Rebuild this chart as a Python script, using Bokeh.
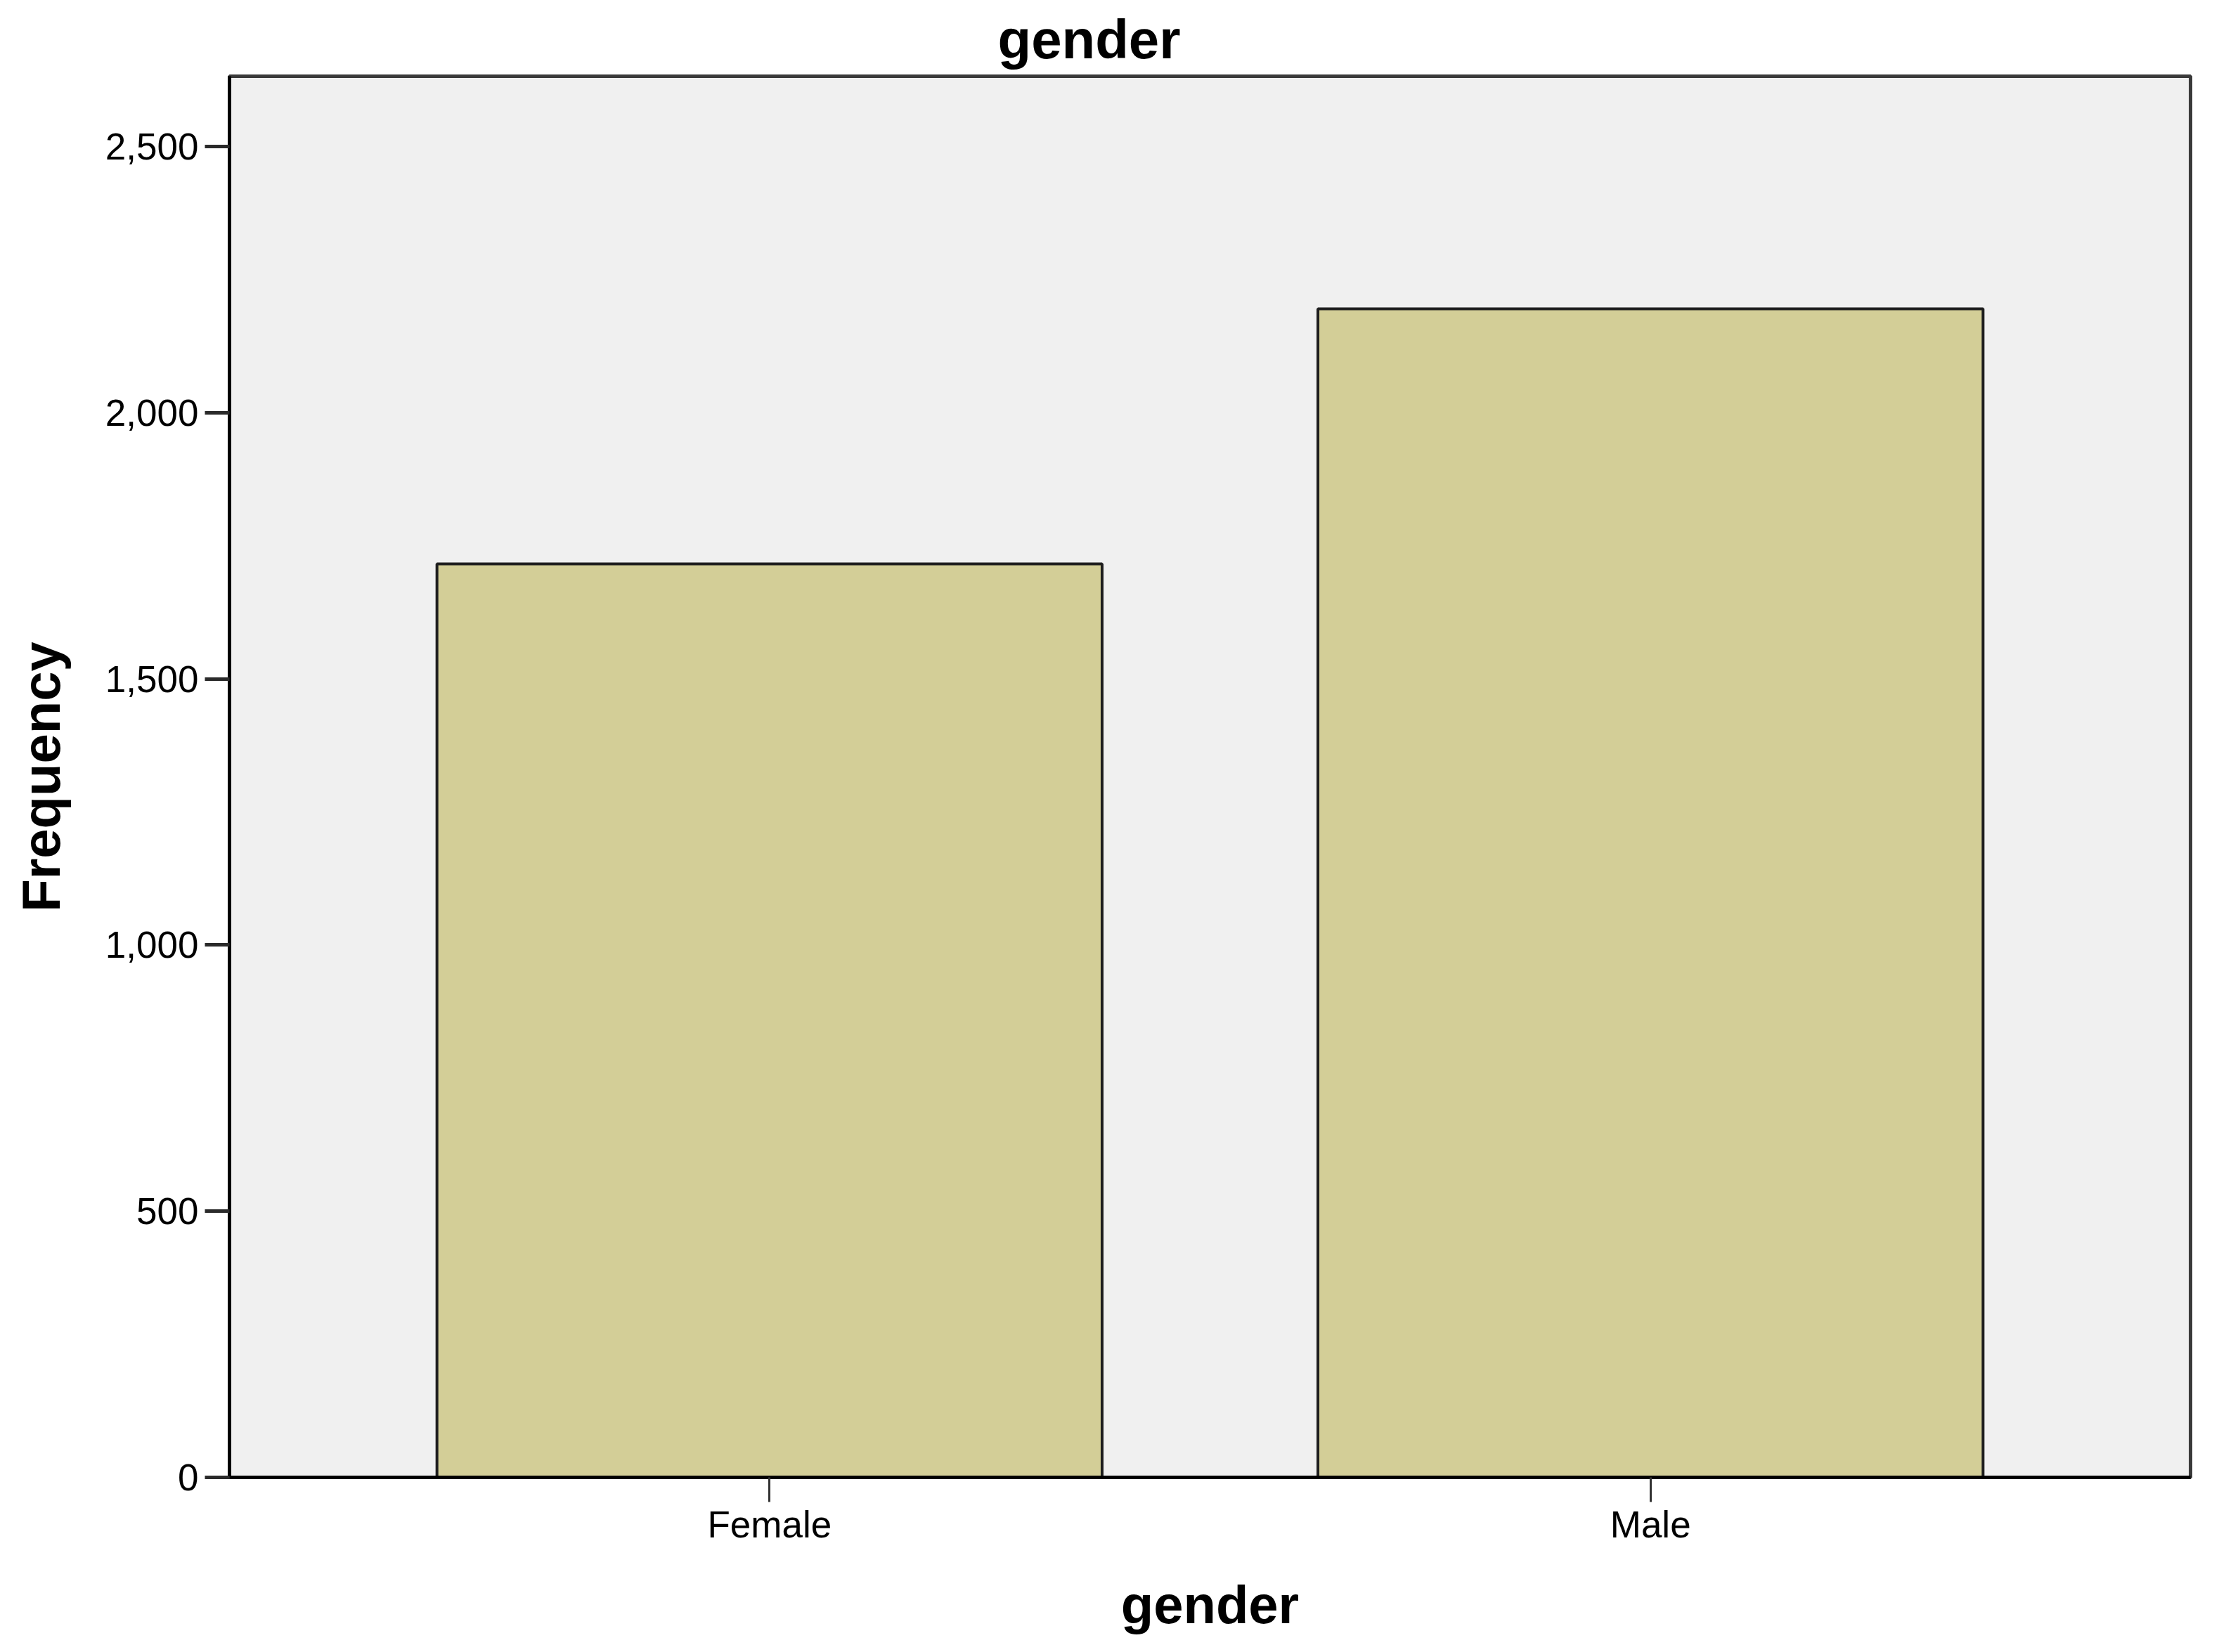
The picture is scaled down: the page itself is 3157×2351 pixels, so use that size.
from bokeh.plotting import figure
from bokeh.models import FactorRange, Range1d, FixedTicker, NumeralTickFormatter, Title
from bokeh.embed import file_html
from bokeh.resources import INLINE

# ---- data ----
categories = ["Female", "Male"]
frequency = [1716, 2195]
y_ticks = [0, 500, 1000, 1500, 2000, 2500]

title_text = "gender"
x_label = "gender"
y_label = "Frequency"

FONT = "Liberation Sans"

p = figure(
    x_range=FactorRange(factors=categories, range_padding=0.113, range_padding_units="percent"),
    y_range=Range1d(0, 2632),
    width=3141, height=2335,
    output_backend="svg", toolbar_location=None, tools="",
    min_border_left=326, min_border_right=25, min_border_top=107, min_border_bottom=233,
)

p.title = Title(text=title_text, align="left", offset=1093, standoff=18,
                text_font=FONT, text_font_size="78px", text_font_style="bold",
                text_color="black")

p.vbar(x=categories, top=frequency, width=0.755, bottom=0,
       fill_color="#D3CE97", line_color="#1e1e1e", line_width=4)

p.background_fill_color = "#F0F0F0"
p.border_fill_color = "white"
p.outline_line_color = "#3a3a3a"
p.outline_line_width = 5
p.xgrid.visible = False
p.ygrid.visible = False

# y axis
ya = p.yaxis[0]
ya.ticker = FixedTicker(ticks=y_ticks)
ya.formatter = NumeralTickFormatter(format="0,0")
ya.axis_label = y_label
ya.axis_label_text_font = FONT
ya.axis_label_text_font_size = "76px"
ya.axis_label_text_font_style = "bold"
ya.axis_label_text_color = "black"
ya.axis_label_standoff = 46
ya.major_label_text_font = FONT
ya.major_label_text_font_size = "53px"
ya.major_label_text_color = "black"
ya.major_label_standoff = 9
ya.major_tick_in = 0
ya.major_tick_out = 35
ya.major_tick_line_width = 5
ya.major_tick_line_color = "#2a2a2a"
ya.minor_tick_line_color = None
ya.axis_line_color = "black"
ya.axis_line_width = 5

# x axis
xa = p.xaxis[0]
xa.axis_label = x_label
xa.axis_label_text_font = FONT
xa.axis_label_text_font_size = "76px"
xa.axis_label_text_font_style = "bold"
xa.axis_label_text_color = "black"
xa.axis_label_standoff = 39
xa.major_label_text_font = FONT
xa.major_label_text_font_size = "53px"
xa.major_label_text_color = "black"
xa.major_label_standoff = 2
xa.major_tick_in = 0
xa.major_tick_out = 35
xa.major_tick_line_width = 3
xa.major_tick_line_color = "#333333"
xa.minor_tick_line_color = None
xa.axis_line_color = "black"
xa.axis_line_width = 5

open("out.html", "w").write(file_html(p, INLINE))
